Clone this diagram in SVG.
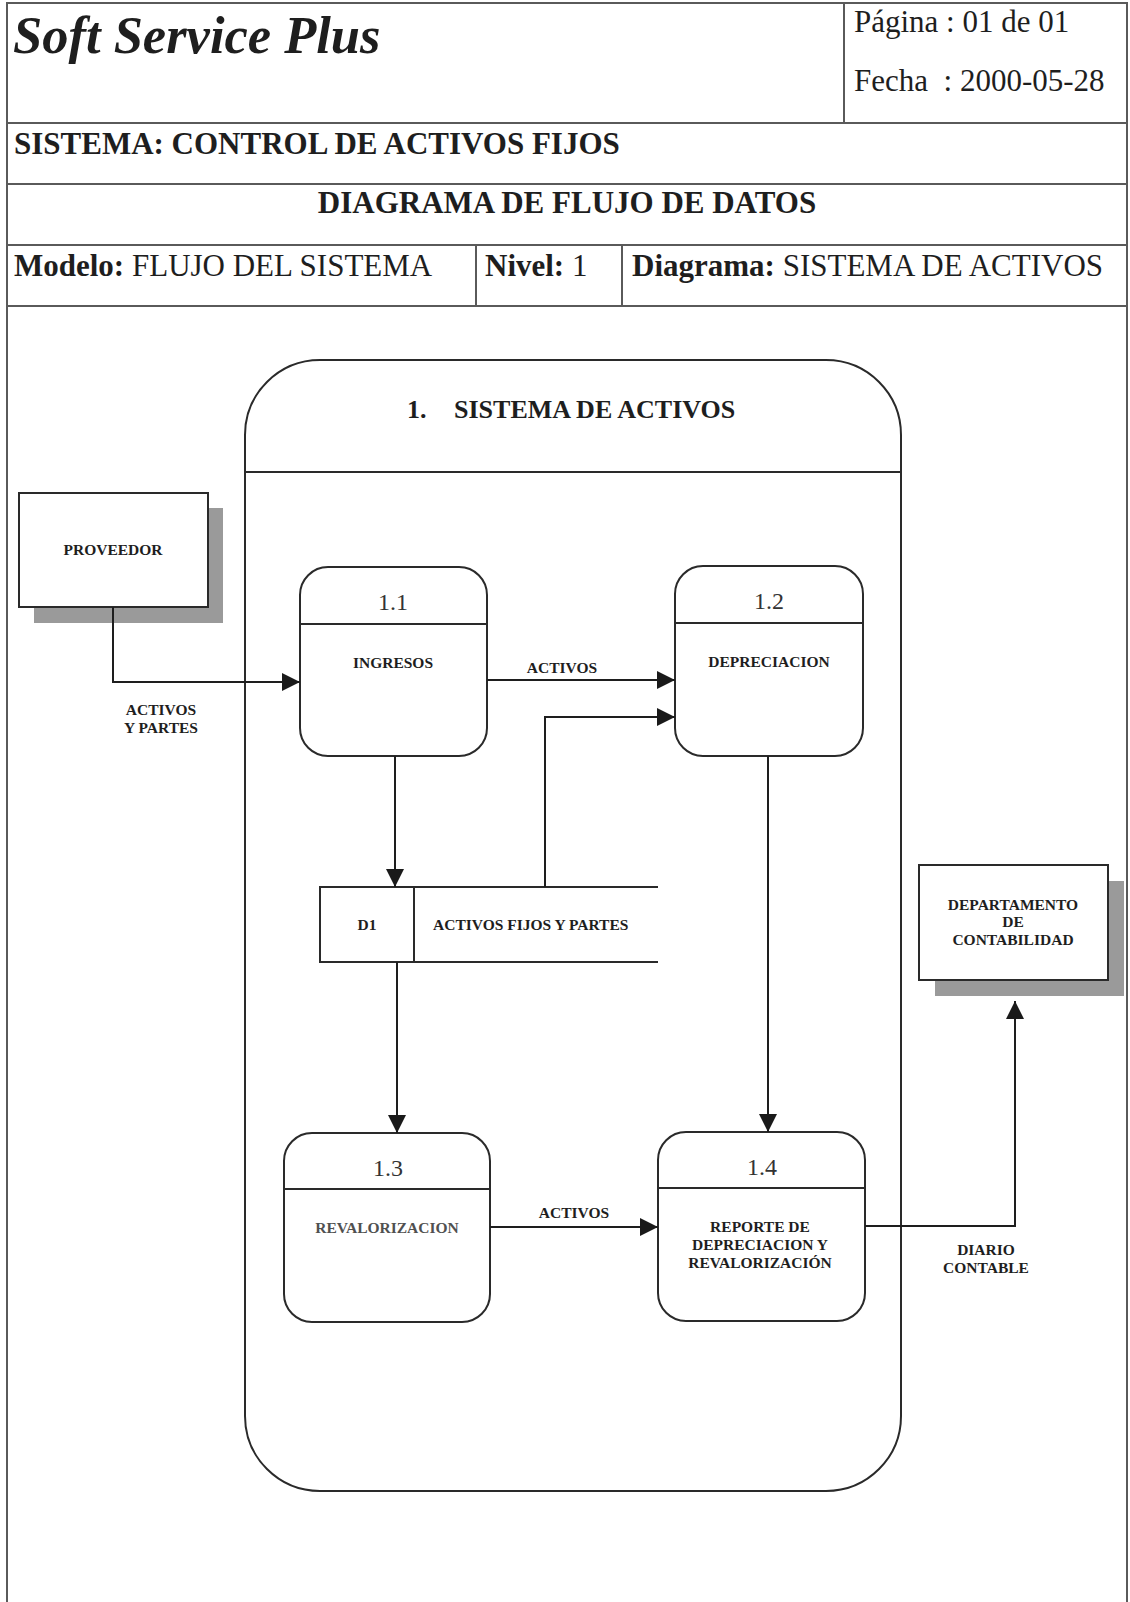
<svg xmlns="http://www.w3.org/2000/svg" width="1130" height="1602" viewBox="0 0 1130 1602">
<defs>
<marker id="arr" markerUnits="userSpaceOnUse" markerWidth="20" markerHeight="20" refX="18" refY="9" orient="auto">
<path d="M0,0 L18,9 L0,18 Z" fill="#1a1a1a"/>
</marker>
</defs>
<style>
text{font-family:"Liberation Serif","Times New Roman",serif;fill:#1e1e1e}
.frame{stroke:#5a5a5a;stroke-width:2;fill:none}
.box{stroke:#2a2a2a;stroke-width:2;fill:#fff}
.ln{stroke:#2a2a2a;stroke-width:2;fill:none}
.hdr{font-size:31px}
.b{font-weight:bold}
.num{font-size:24px;fill:#333;text-anchor:middle}
.lbl{font-size:15.5px;font-weight:bold;text-anchor:middle}
.shadow{fill:#9a9a9a}
.con{stroke:#1e1e1e;stroke-width:2;fill:none;marker-end:url(#arr)}
</style>
<rect width="1130" height="1602" fill="#fff"/>

<g id="header">
<path class="frame" d="M7,1602 V3 H1127 V1602"/>
<path class="frame" d="M844,3 V123 M7,123 H1127 M7,184 H1127 M7,245 H1127 M7,306 H1127 M476,245 V306 M622,245 V306"/>
<text x="13" y="53" font-size="52.5" font-weight="bold" font-style="italic">Soft Service Plus</text>
<text x="854" y="32" font-size="31">Página : 01 de 01</text>
<text x="854" y="91" font-size="31" xml:space="preserve">Fecha  : 2000-05-28</text>
<text class="hdr b" x="14" y="154">SISTEMA: CONTROL DE ACTIVOS FIJOS</text>
<text class="hdr b" x="567" y="213" text-anchor="middle">DIAGRAMA DE FLUJO DE DATOS</text>
<text class="hdr" x="14" y="276"><tspan font-weight="bold">Modelo:</tspan> FLUJO DEL SISTEMA</text>
<text class="hdr" x="485" y="276"><tspan font-weight="bold">Nivel:</tspan> 1</text>
<text class="hdr" x="632" y="276"><tspan font-weight="bold">Diagrama:</tspan> SISTEMA DE ACTIVOS</text>
</g>

<g id="sistema">
<rect class="box" x="245" y="360" width="656" height="1131" rx="75" ry="75"/>
<line class="ln" x1="245" y1="472" x2="901" y2="472"/>
<text x="407" y="418" font-size="26" font-weight="bold">1.</text>
<text x="454" y="418" font-size="26" font-weight="bold">SISTEMA DE ACTIVOS</text>
</g>

<g id="proveedor">
<rect class="shadow" x="34" y="508" width="189" height="115"/>
<rect class="box" x="19" y="493" width="189" height="114"/>
<text class="lbl" x="113" y="555">PROVEEDOR</text>
</g>

<g id="departamento">
<rect class="shadow" x="935" y="881" width="189" height="115"/>
<rect class="box" x="919" y="865" width="189" height="115"/>
<text class="lbl" x="1013" y="910">DEPARTAMENTO</text>
<text class="lbl" x="1013" y="927">DE</text>
<text class="lbl" x="1013" y="945">CONTABILIDAD</text>
</g>

<g id="p1_1">
<rect class="box" x="300" y="567" width="187" height="189" rx="28" ry="28"/>
<line class="ln" x1="300" y1="624" x2="487" y2="624"/>
<text class="num" x="393" y="610">1.1</text>
<text class="lbl" x="393" y="668">INGRESOS</text>
</g>

<g id="p1_2">
<rect class="box" x="675" y="566" width="188" height="190" rx="28" ry="28"/>
<line class="ln" x1="675" y1="623" x2="863" y2="623"/>
<text class="num" x="769" y="609">1.2</text>
<text class="lbl" x="769" y="667">DEPRECIACION</text>
</g>

<g id="p1_3">
<rect class="box" x="284" y="1133" width="206" height="189" rx="28" ry="28"/>
<line class="ln" x1="284" y1="1189" x2="490" y2="1189"/>
<text class="num" x="388" y="1176">1.3</text>
<text class="lbl" x="387" y="1233" style="fill:#505050">REVALORIZACION</text>
</g>

<g id="p1_4">
<rect class="box" x="658" y="1132" width="207" height="189" rx="28" ry="28"/>
<line class="ln" x1="658" y1="1188" x2="865" y2="1188"/>
<text class="num" x="762" y="1175">1.4</text>
<text class="lbl" x="760" y="1232">REPORTE DE</text>
<text class="lbl" x="760" y="1250">DEPRECIACION Y</text>
<text class="lbl" x="760" y="1268">REVALORIZACIÓN</text>
</g>

<g id="d1">
<path class="ln" d="M658,887 H320 V962 H658 M414,887 V962"/>
<text class="lbl" x="367" y="930">D1</text>
<text x="433" y="930" font-size="15.5" font-weight="bold">ACTIVOS FIJOS Y PARTES</text>
</g>

<g id="connectors">
<path class="con" d="M113,607 V682 H300"/>
<path class="con" d="M487,680 H675"/>
<path class="con" d="M545,887 V717 H675"/>
<path class="con" d="M395,756 V887"/>
<path class="con" d="M397,962 V1133"/>
<path class="con" d="M768,756 V1132"/>
<path class="con" d="M490,1227 H658"/>
<path class="con" d="M865,1226 H1015 V1001"/>
<text class="lbl" x="161" y="715">ACTIVOS</text>
<text class="lbl" x="161" y="733">Y PARTES</text>
<text class="lbl" x="562" y="673">ACTIVOS</text>
<text class="lbl" x="574" y="1218">ACTIVOS</text>
<text class="lbl" x="986" y="1255">DIARIO</text>
<text class="lbl" x="986" y="1273">CONTABLE</text>
</g>
</svg>
